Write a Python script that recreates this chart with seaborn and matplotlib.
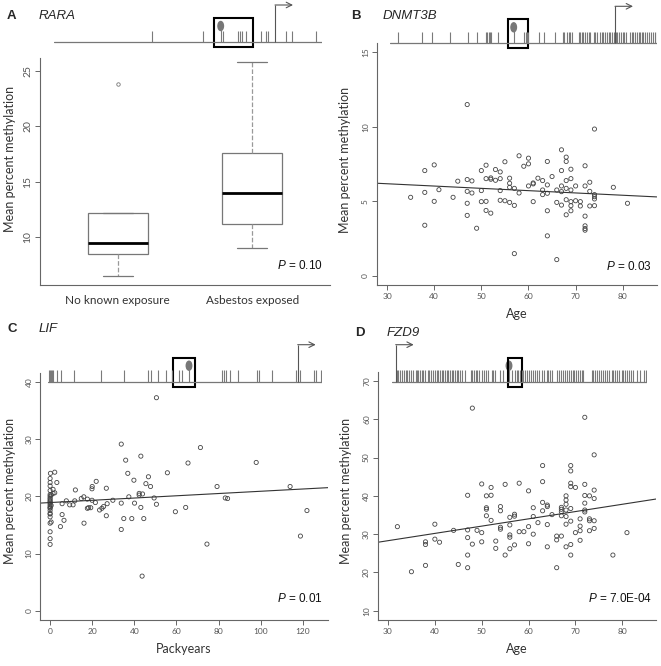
import numpy as np
import pandas as pd
import matplotlib
matplotlib.use('Agg')
import matplotlib.pyplot as plt
from matplotlib.patches import Ellipse, Rectangle
import seaborn as sns

# ---- panel A: RARA box plot (five-number summaries) ----
exposure_groups = ['No known exposure', 'Asbestos exposed']
rara_no_exposure = [6.45, 8.45, 9.45, 12.2, 23.8]
rara_asbestos = [8.95, 11.2, 14.0, 17.6, 25.85]

# ---- panel B: DNMT3B vs age ----
dnmt3b_age = [35, 38, 38, 38, 40, 40, 41, 44, 45,
              47, 47, 47, 47, 47, 48, 48, 49, 50, 50, 50,
              51, 51, 51, 51, 52, 52, 52, 53, 53, 54, 54, 54, 54,
              55, 55, 56, 56, 56, 56, 57, 57, 57, 58, 58, 59,
              60, 60, 60, 61, 61, 61, 62, 63, 63, 63,
              64, 64, 64, 64, 64, 65, 66, 66, 66,
              67, 67, 67, 67, 67, 68, 68, 68, 68, 68, 68,
              69, 69, 69, 69, 69, 69, 70, 70, 71, 71,
              72, 72, 72, 72, 72, 72, 73, 73, 73,
              74, 74, 74, 74, 74, 78, 81]
dnmt3b_meth = [5.27, 7.06, 5.6, 3.4, 7.44, 5.0, 5.78, 5.27, 6.35,
               11.48, 6.46, 5.67, 4.87, 4.06, 6.37, 5.56, 3.2, 7.06, 5.72, 4.98,
               7.42, 6.52, 5.0, 4.39, 6.57, 6.48, 4.21, 7.13, 6.41, 6.97, 6.52, 5.72, 5.07,
               7.65, 5.04, 6.55, 6.21, 5.94, 4.93, 1.5, 5.87, 4.73, 8.05, 5.56, 7.35,
               7.89, 7.51, 6.03, 6.17, 4.98, 6.23, 6.55, 6.39, 5.76, 5.45,
               7.67, 6.1, 4.37, 2.69, 5.54, 6.66, 5.76, 4.93, 1.1,
               8.45, 7.06, 6.03, 5.65, 4.75, 7.96, 7.67, 6.39, 5.87, 5.11, 4.1,
               7.15, 6.52, 5.76, 4.98, 4.71, 4.37, 6.03, 5.04, 4.98, 4.69,
               7.38, 6.03, 4.01, 3.36, 3.18, 3.07, 6.28, 5.67, 4.69,
               9.84, 5.45, 5.16, 4.71, 5.31, 5.94, 4.87]
dnmt3b_fit = (6.64, -0.0154)

# ---- panel C: LIF vs packyears ----
lif_packyears = [0.15, 2.2, 0, 3.2, 0, 0, 1.4, 0, 1.4, 2.2, 0, 0, 0, 0, 0, 0, 0, 0, 0.5, 0, 0, 0,
                 0, 0, 0, 0, 0, 0, 0, 0, 0.5, 0.5,
                 5.7, 6.6, 4.9, 5.7, 7.7, 9.3, 10.9, 11.7, 12.0, 14.8, 16.0, 16.1,
                 17.7, 17.7, 18.3, 19.3, 19.9, 20.0, 19.9, 21.9, 21.5, 23.5, 24.6, 25.4,
                 26.7, 27.1, 26.7, 29.8, 33.8, 33.8, 33.8, 35.9, 35.0, 36.9, 37.4, 39.8,
                 38.8, 40.1, 43.1, 45.5, 46.7, 47.7, 42.3, 42.3, 43.9, 43.1, 44.5, 43.7,
                 49.4, 50.5, 50.5, 55.7, 59.5, 64.4, 65.5, 71.4, 74.5, 79.3, 83.2, 84.3,
                 97.9, 114, 118.9, 122]
lif_meth = [24.0, 24.2, 23.1, 22.4, 22.4, 21.8, 21.2, 21.0, 20.5, 20.6, 20.0, 19.45, 19.0, 18.5, 18.2,
            17.9, 17.0, 16.4, 15.5, 13.8, 12.6, 11.6,
            19.7, 19.2, 18.8, 18.0, 17.5, 20.3, 15.3, 16.9, 20.2, 18.4,
            16.8, 15.8, 14.7, 18.7, 19.2, 18.5, 18.5, 19.2, 21.1, 19.6, 19.9, 15.3,
            19.5, 17.9, 18.0, 18.0, 19.3, 21.7, 21.3, 22.6, 18.9, 17.6, 17.9, 18.2,
            21.4, 18.7, 16.6, 19.3, 29.1, 18.8, 14.2, 26.3, 16.1, 24.0, 19.9, 22.8,
            16.1, 18.8, 27.0, 22.2, 23.4, 21.7, 20.5, 20.2, 20.4, 18.05, 16.1, 6.06,
            19.7, 18.6, 37.2, 24.1, 17.3, 18.05, 25.8, 28.5, 11.65, 21.7, 19.7, 19.6,
            25.9, 21.7, 13.05, 17.5]
lif_fit = (18.9, 0.0197)

# ---- panel D: FZD9 vs age ----
fzd9_age = [32, 35, 38, 38, 38, 40, 40, 41, 44, 45,
            47, 47, 47, 47, 47, 48, 48, 49, 50, 50, 50,
            51, 51, 51, 51, 52, 52, 52, 53, 53, 54, 54, 54, 54,
            55, 55, 56, 56, 56, 56, 56, 57, 57, 57, 58, 58, 59,
            60, 60, 60, 61, 61, 61, 62, 63, 63, 63, 63,
            64, 64, 64, 64, 65, 66, 66, 66, 67, 67, 67, 67, 67,
            68, 68, 68, 68, 68, 68, 68, 69, 69, 69, 69, 69, 69, 69, 69,
            70, 70, 71, 71, 71, 71, 72, 72, 72, 72, 72, 72,
            73, 73, 73, 73, 74, 74, 74, 74, 74, 78, 81]
fzd9_meth = [31.96, 20.2, 28.0, 27.3, 21.85, 32.6, 28.7, 27.9, 31.0, 22.1,
             40.15, 31.1, 29.1, 24.55, 21.25, 27.4, 62.9, 31.0, 43.1, 30.4, 28.0,
             40.0, 36.9, 36.5, 34.8, 42.2, 40.15, 33.6, 28.2, 26.3, 37.2, 36.1, 31.8, 31.3,
             43.0, 24.55, 34.4, 32.4, 29.8, 29.2, 26.2, 35.2, 34.7, 27.2, 43.3, 30.65, 30.65,
             41.3, 31.96, 27.5, 36.9, 34.6, 30.0, 33.0, 47.9, 43.7, 38.3, 36.1,
             37.6, 37.2, 32.5, 26.7, 35.1, 29.5, 28.5, 21.25, 37.0, 36.5, 35.9, 34.8, 29.5,
             40.0, 38.9, 37.8, 36.3, 34.6, 32.6, 26.7, 47.9, 46.5, 43.3, 42.4, 36.7, 33.4, 27.3, 24.55,
             42.2, 30.4, 34.0, 32.1, 30.9, 28.4, 60.5, 43.0, 40.1, 38.1, 36.3, 35.8,
             40.0, 34.0, 33.5, 30.9, 50.7, 41.5, 39.3, 33.5, 31.5, 24.55, 30.4]
fzd9_fit = (22.6, 0.19)

# ---- gene tracks: CpG positions along each region (relative units) ----
rara_cpgs = [97.7, 149.3, 168.7, 183.7, 186, 188.3, 192, 207, 211.7, 214, 232, 238.3, 262]
rara_hit, rara_amplicon, rara_tss = 166.7, (160.3, 198.7), 221

dnmt3b_cpgs = [8.3, 31.7, 42.3, 60, 78.3, 86.7, 96, 97.3, 98.7, 100, 101.3, 107.7,
               134.3, 135.7, 137, 138, 149.3, 154, 164.7,
               173, 174.3, 176.7, 178.7, 180, 182, 188.7, 190, 192, 193.3, 195.3, 196.7, 198.7, 200,
               204, 205.3, 206.7, 210, 212, 213.3, 215.3, 216.7, 218.7, 220,
               222, 224, 226, 227.3, 229.3, 230.7, 232.7, 234, 236,
               240, 242, 243.3, 245.3, 246.7, 248.7, 250, 252, 253.3, 255.3, 256.7, 258.7,
               260.7, 262.7, 264.7, 266.7]
dnmt3b_hit, dnmt3b_amplicon, dnmt3b_tss = 123.7, (117.7, 137.7), 225

lif_cpgs = [0.7, 1.7, 2.7, 3.7, 5, 9, 12.4, 26, 52.4, 76, 99.4, 102.4, 109.4, 117.4, 123.4,
            130.7, 133.4, 174, 175.7, 177.4, 181.7, 190, 208.4, 211, 224, 247.4, 251.7,
            266, 267.7, 272.7]
lif_hit, lif_amplicon, lif_tss = 140.7, (125, 146.7), 249.4

fzd9_cpgs = [5.0, 6.6, 8.3, 10.6, 12.6, 14.0, 15.6, 17.3, 19.3, 21.3, 24.0, 25.6, 26.6, 28.3,
             30.0, 31.6, 33.3, 36.0, 37.6, 39.3, 41.0, 43.3, 45.0, 46.6, 48.3, 50.0, 51.6,
             53.3, 55.0, 56.6, 58.3, 60.0, 61.6, 63.3, 65.0, 66.6, 68.3, 70.0, 73.3, 79.3,
             80.6, 82.6, 84.0, 85.6, 87.6, 90.0, 92.0, 94.0, 96.0, 100.0, 101.6, 103.3,
             108.3, 111.6, 120.0, 123.3, 125.0, 126.6, 128.3, 130.0,
             131.6, 133.3, 135.6, 137.6, 139.3, 141.0, 143.3, 145.6, 147.6, 150.0, 152.3,
             155.0, 156.6, 158.3, 160.0, 165.6, 167.6, 169.6, 171.6, 173.3, 175.0, 177.0,
             179.0, 181.0, 182.6, 184.3, 186.6, 188.3, 190.0, 191.6, 200.0, 201.6, 203.6,
             205.6, 207.6, 209.6, 211.6, 213.6, 215.6, 217.6, 220.0, 221.6, 223.6, 225.6,
             227.6, 230.0, 231.6, 233.6, 235.6, 237.6, 239.6, 241.6, 245.6, 248.3, 252.3, 254.3]
fzd9_hit, fzd9_amplicon, fzd9_tss = 117.3, (116.6, 130), 4.0


sns.set_style('ticks')
plt.rcParams['font.family'] = ['Lato', 'DejaVu Sans']
plt.rcParams['mathtext.fontset'] = 'custom'
plt.rcParams['mathtext.it'] = 'Liberation Sans:italic'
plt.rcParams['mathtext.rm'] = 'Liberation Sans'

W, H = 661, 666
fig = plt.figure(figsize=(W / 100, H / 100), dpi=100)


def px_rect(l, t, r, b):
    return [l / W, 1 - b / H, (r - l) / W, (b - t) / H]


def style_axes(ax, tick_size):
    sns.despine(ax=ax)
    for side in ['left', 'bottom']:
        ax.spines[side].set_color('#666')
        ax.spines[side].set_linewidth(0.8)
    ax.tick_params(colors='#666', labelcolor='#555', labelsize=tick_size,
                   length=3.5, width=0.7, pad=2)
    ax.tick_params(axis='y', labelrotation=90)
    for lab in ax.get_yticklabels():
        lab.set_va('center')
    ax.set_facecolor('none')


def add_pvalue(ax, text, x, y):
    ax.text(x, y, text, transform=ax.transAxes, ha='right', va='center',
            fontsize=8.5, family='Liberation Sans', color='#111')


def draw_track(l, r, base, cpgs, hit, amplicon, tss):
    ax = fig.add_axes(px_rect(l, base - 45, r, base + 8), zorder=5)
    ax.set_xlim(0, r - l)
    ax.set_ylim(-8, 45)
    ax.axis('off')
    ax.axhline(0, color='#777', lw=0.9)
    ax.vlines(cpgs, 0, 11.5, color='#7a7a7a', lw=0.8)
    ax.vlines(hit, 0, 14, color='#7a7a7a', lw=0.8)
    ax.add_patch(Ellipse((hit, 16), 5.5, 9, color='#777', clip_on=False))
    ax.add_patch(Rectangle((amplicon[0], -5), amplicon[1] - amplicon[0], 29,
                           fill=False, lw=1.5, ec='black', clip_on=False))
    ax.vlines(tss, 0, 37, color='#555', lw=0.8)
    ax.annotate('', xy=(tss + 18, 37), xytext=(tss, 37),
                arrowprops=dict(arrowstyle='->', color='#555', lw=0.8,
                                shrinkA=0, shrinkB=0))


def panel_title(x, y, letter, gene):
    fig.text(x / W, 1 - y / H, letter, fontsize=9.5, weight='bold',
             family='Liberation Sans', va='center')
    fig.text((x + 32) / W, 1 - y / H, gene, fontsize=9.5, style='italic',
             family='Liberation Sans', va='center')


# ---------------- A ----------------
axA = fig.add_axes(px_rect(40, 58, 330, 285))
df_a = pd.DataFrame({
    'group': [exposure_groups[0]] * len(rara_no_exposure) + [exposure_groups[1]] * len(rara_asbestos),
    'meth': rara_no_exposure + rara_asbestos,
})
sns.boxplot(data=df_a, x='group', y='meth', order=exposure_groups, ax=axA,
            width=0.45, color='white', linecolor='#777', linewidth=0.9,
            whis=1.5, fliersize=2.5,
            medianprops={'color': 'black', 'linewidth': 2},
            whiskerprops={'linestyle': '--', 'color': '#999'},
            flierprops={'marker': 'o', 'markerfacecolor': 'none',
                        'markeredgecolor': '#777', 'markeredgewidth': 0.6})
axA.set_xlim(-0.58, 1.58)
axA.set_ylim(5.64, 26.2)
axA.set_yticks([10, 15, 20, 25])
axA.set_xlabel('')
axA.set_ylabel('Mean percent methylation', fontsize=9, color='#333')
axA.yaxis.set_label_coords(-0.083, 0.555)
style_axes(axA, 7.5)
axA.tick_params(axis='x', length=0, labelsize=8.5, labelcolor='#333', pad=7)
add_pvalue(axA, r'$P$ = 0.10', 0.976, 0.084)
draw_track(54, 322, 42, rara_cpgs, rara_hit, rara_amplicon, rara_tss)
panel_title(7, 16, 'A', 'RARA')

# ---------------- B ----------------
axB = fig.add_axes(px_rect(376.7, 43, 656.7, 285))
sns.scatterplot(x=dnmt3b_age, y=dnmt3b_meth, ax=axB, marker='o', color='none',
                edgecolor='#444', s=9, linewidth=0.6)
axB.axline((0, dnmt3b_fit[0]), slope=dnmt3b_fit[1], color='#333', lw=0.8)
axB.set_xlim(27.8, 87.2)
axB.set_ylim(-0.6, 15.6)
axB.set_xticks([30, 40, 50, 60, 70, 80])
axB.set_yticks([0, 5, 10, 15])
axB.set_xlabel('Age', fontsize=9, color='#333', labelpad=6)
axB.set_ylabel('Mean percent methylation', fontsize=9, color='#333')
axB.yaxis.set_label_coords(-0.092, 0.517)
style_axes(axB, 6)
add_pvalue(axB, r'$P$ = 0.03', 0.982, 0.076)
draw_track(390, 657, 43.3, dnmt3b_cpgs, dnmt3b_hit, dnmt3b_amplicon, dnmt3b_tss)
panel_title(350.7, 16, 'B', 'DNMT3B')

# ---------------- C ----------------
axC = fig.add_axes(px_rect(40, 372.5, 328, 620))
sns.scatterplot(x=lif_packyears, y=lif_meth, ax=axC, marker='o', color='none',
                edgecolor='#444', s=9, linewidth=0.6)
axC.axline((0, lif_fit[0]), slope=lif_fit[1], color='#333', lw=0.8)
axC.set_xlim(-4.8, 132)
axC.set_ylim(-1.6, 41.6)
axC.set_xticks([0, 20, 40, 60, 80, 100, 120])
axC.set_yticks([0, 10, 20, 30, 40])
axC.set_xlabel('Packyears', fontsize=9, color='#333', labelpad=6)
axC.set_ylabel('Mean percent methylation', fontsize=9, color='#333')
axC.yaxis.set_label_coords(-0.083, 0.52)
style_axes(axC, 6)
add_pvalue(axC, r'$P$ = 0.01', 0.98, 0.085)
draw_track(48.3, 321.7, 381.7, lif_cpgs, lif_hit, lif_amplicon, lif_tss)
panel_title(7, 329, 'C', 'LIF')

# ---------------- D ----------------
axD = fig.add_axes(px_rect(377.7, 371.7, 656, 620))
sns.scatterplot(x=fzd9_age, y=fzd9_meth, ax=axD, marker='o', color='none',
                edgecolor='#444', s=9, linewidth=0.6)
axD.axline((0, fzd9_fit[0]), slope=fzd9_fit[1], color='#333', lw=0.8)
axD.set_xlim(27.8, 87.2)
axD.set_ylim(7.6, 72.4)
axD.set_xticks([30, 40, 50, 60, 70, 80])
axD.set_yticks([10, 20, 30, 40, 50, 60, 70])
axD.set_xlabel('Age', fontsize=9, color='#333', labelpad=6)
axD.set_ylabel('Mean percent methylation', fontsize=9, color='#333')
axD.yaxis.set_label_coords(-0.092, 0.52)
style_axes(axD, 6)
add_pvalue(axD, r'$P$ = 7.0E-04', 0.985, 0.085)
draw_track(391.7, 646.7, 381.7, fzd9_cpgs, fzd9_hit, fzd9_amplicon, fzd9_tss)
panel_title(355, 333, 'D', 'FZD9')

fig.savefig('out.png', dpi=100)
